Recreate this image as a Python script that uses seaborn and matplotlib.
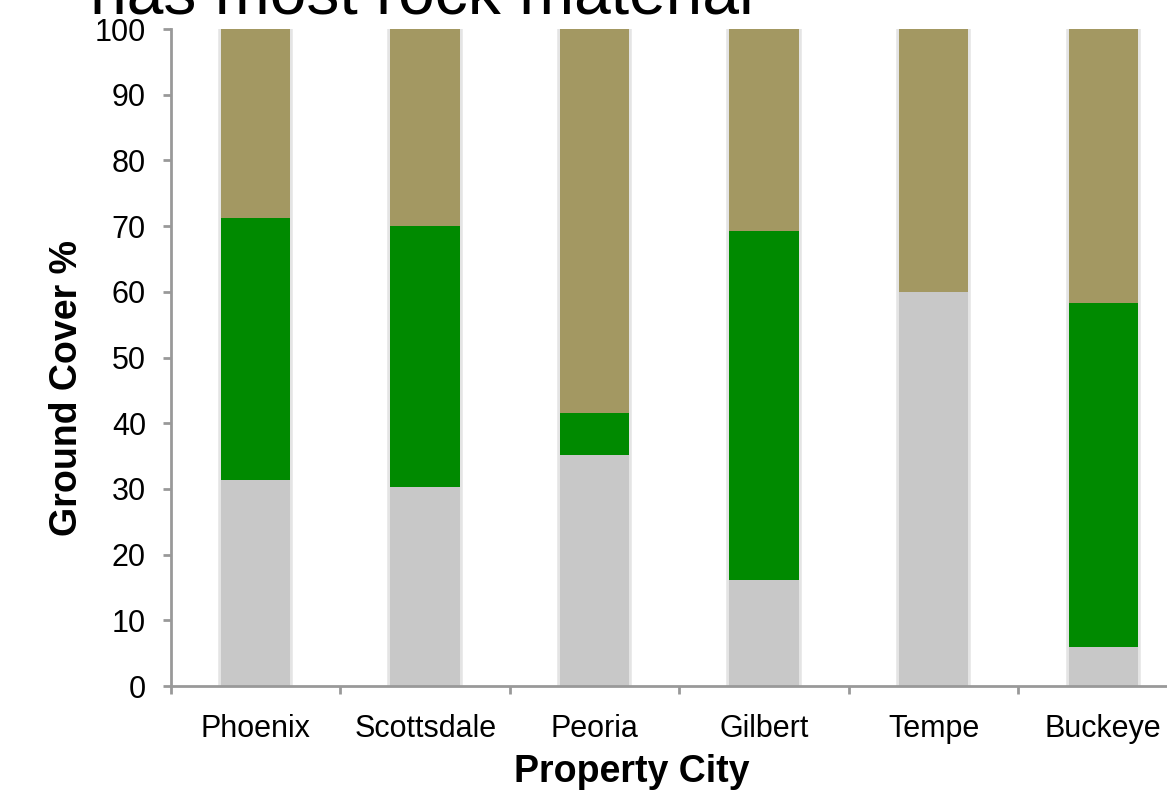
import matplotlib
matplotlib.use("Agg")
import matplotlib.pyplot as plt
import matplotlib.patheffects as pe
import seaborn as sns
import pandas as pd
import numpy as np

cities = ["Phoenix", "Scottsdale", "Peoria", "Gilbert", "Tempe", "Buckeye"]
rock = [31.4, 30.3, 35.2, 16.1, 60.0, 5.9]
grass = [39.8, 39.7, 6.4, 53.2, 0.0, 52.4]
yticks = [0, 10, 20, 30, 40, 50, 60, 70, 80, 90, 100]

c_rock = "#C8C8C8"
c_grass = "#008A00"
c_other = "#A39862"

sns.set_theme(style="white")
plt.rcParams["font.family"] = ["Liberation Sans", "DejaVu Sans"]
plt.rcParams["text.color"] = "black"
plt.rcParams["axes.labelcolor"] = "black"
plt.rcParams["xtick.color"] = "black"
plt.rcParams["ytick.color"] = "black"

df = pd.DataFrame({"city": cities, "rock": rock, "grass": grass})
df["rock_grass"] = df["rock"] + df["grass"]
df["total"] = 100.0

fig = plt.figure(figsize=(11.67, 7.95), dpi=100)
ax = fig.add_axes([0.1465, 0.137, 0.8715, 0.8265])

bw = 0.41
sns.barplot(data=df, x="city", y="total", color=c_other, width=bw, ax=ax,
            saturation=1, linewidth=0)
# soft edge around each full-height column
for p in ax.patches:
    p.set_path_effects([pe.Stroke(linewidth=4, foreground="#d2d2d2", alpha=0.6),
                        pe.Normal()])
sns.barplot(data=df, x="city", y="rock_grass", color=c_grass, width=bw, ax=ax,
            saturation=1, linewidth=0)
sns.barplot(data=df, x="city", y="rock", color=c_rock, width=bw, ax=ax,
            saturation=1, linewidth=0)

ax.set_xlim(-0.5, len(cities) - 0.5)
ax.set_ylim(0, 100)
ax.set_yticks(yticks)
ax.set_yticklabels([str(v) for v in yticks], fontsize=22)
ax.set_xticks(range(len(cities)))
ax.set_xticklabels(cities, fontsize=22)
ax.set_xticks(np.arange(-0.5, len(cities) + 0.5, 1), minor=True)
ax.tick_params(axis="x", which="major", length=0, pad=20)
ax.tick_params(axis="x", which="minor", length=6, width=2, colors="#999999",
               direction="out", bottom=True)
ax.tick_params(axis="y", length=6, width=2, color="#999999", labelcolor="black",
               direction="out", left=True, pad=12)

for s in ["top", "right"]:
    ax.spines[s].set_visible(False)
for s in ["left", "bottom"]:
    ax.spines[s].set_color("#999999")
    ax.spines[s].set_linewidth(2)

ax.set_xlabel("Property City", fontsize=27, fontweight="bold")
ax.set_ylabel("Ground Cover %", fontsize=27, fontweight="bold")
ax.xaxis.set_label_coords(0.453, -0.131)
ax.xaxis.label.set_va("center")
ax.yaxis.set_label_coords(-0.102, 0.4536)
ax.yaxis.label.set_va("center")

fig.text(0.077, 1 - 13 / 795, "has most rock material", fontsize=47.5,
         ha="left", va="baseline", color="black")

fig.savefig("out.png", dpi=100)
